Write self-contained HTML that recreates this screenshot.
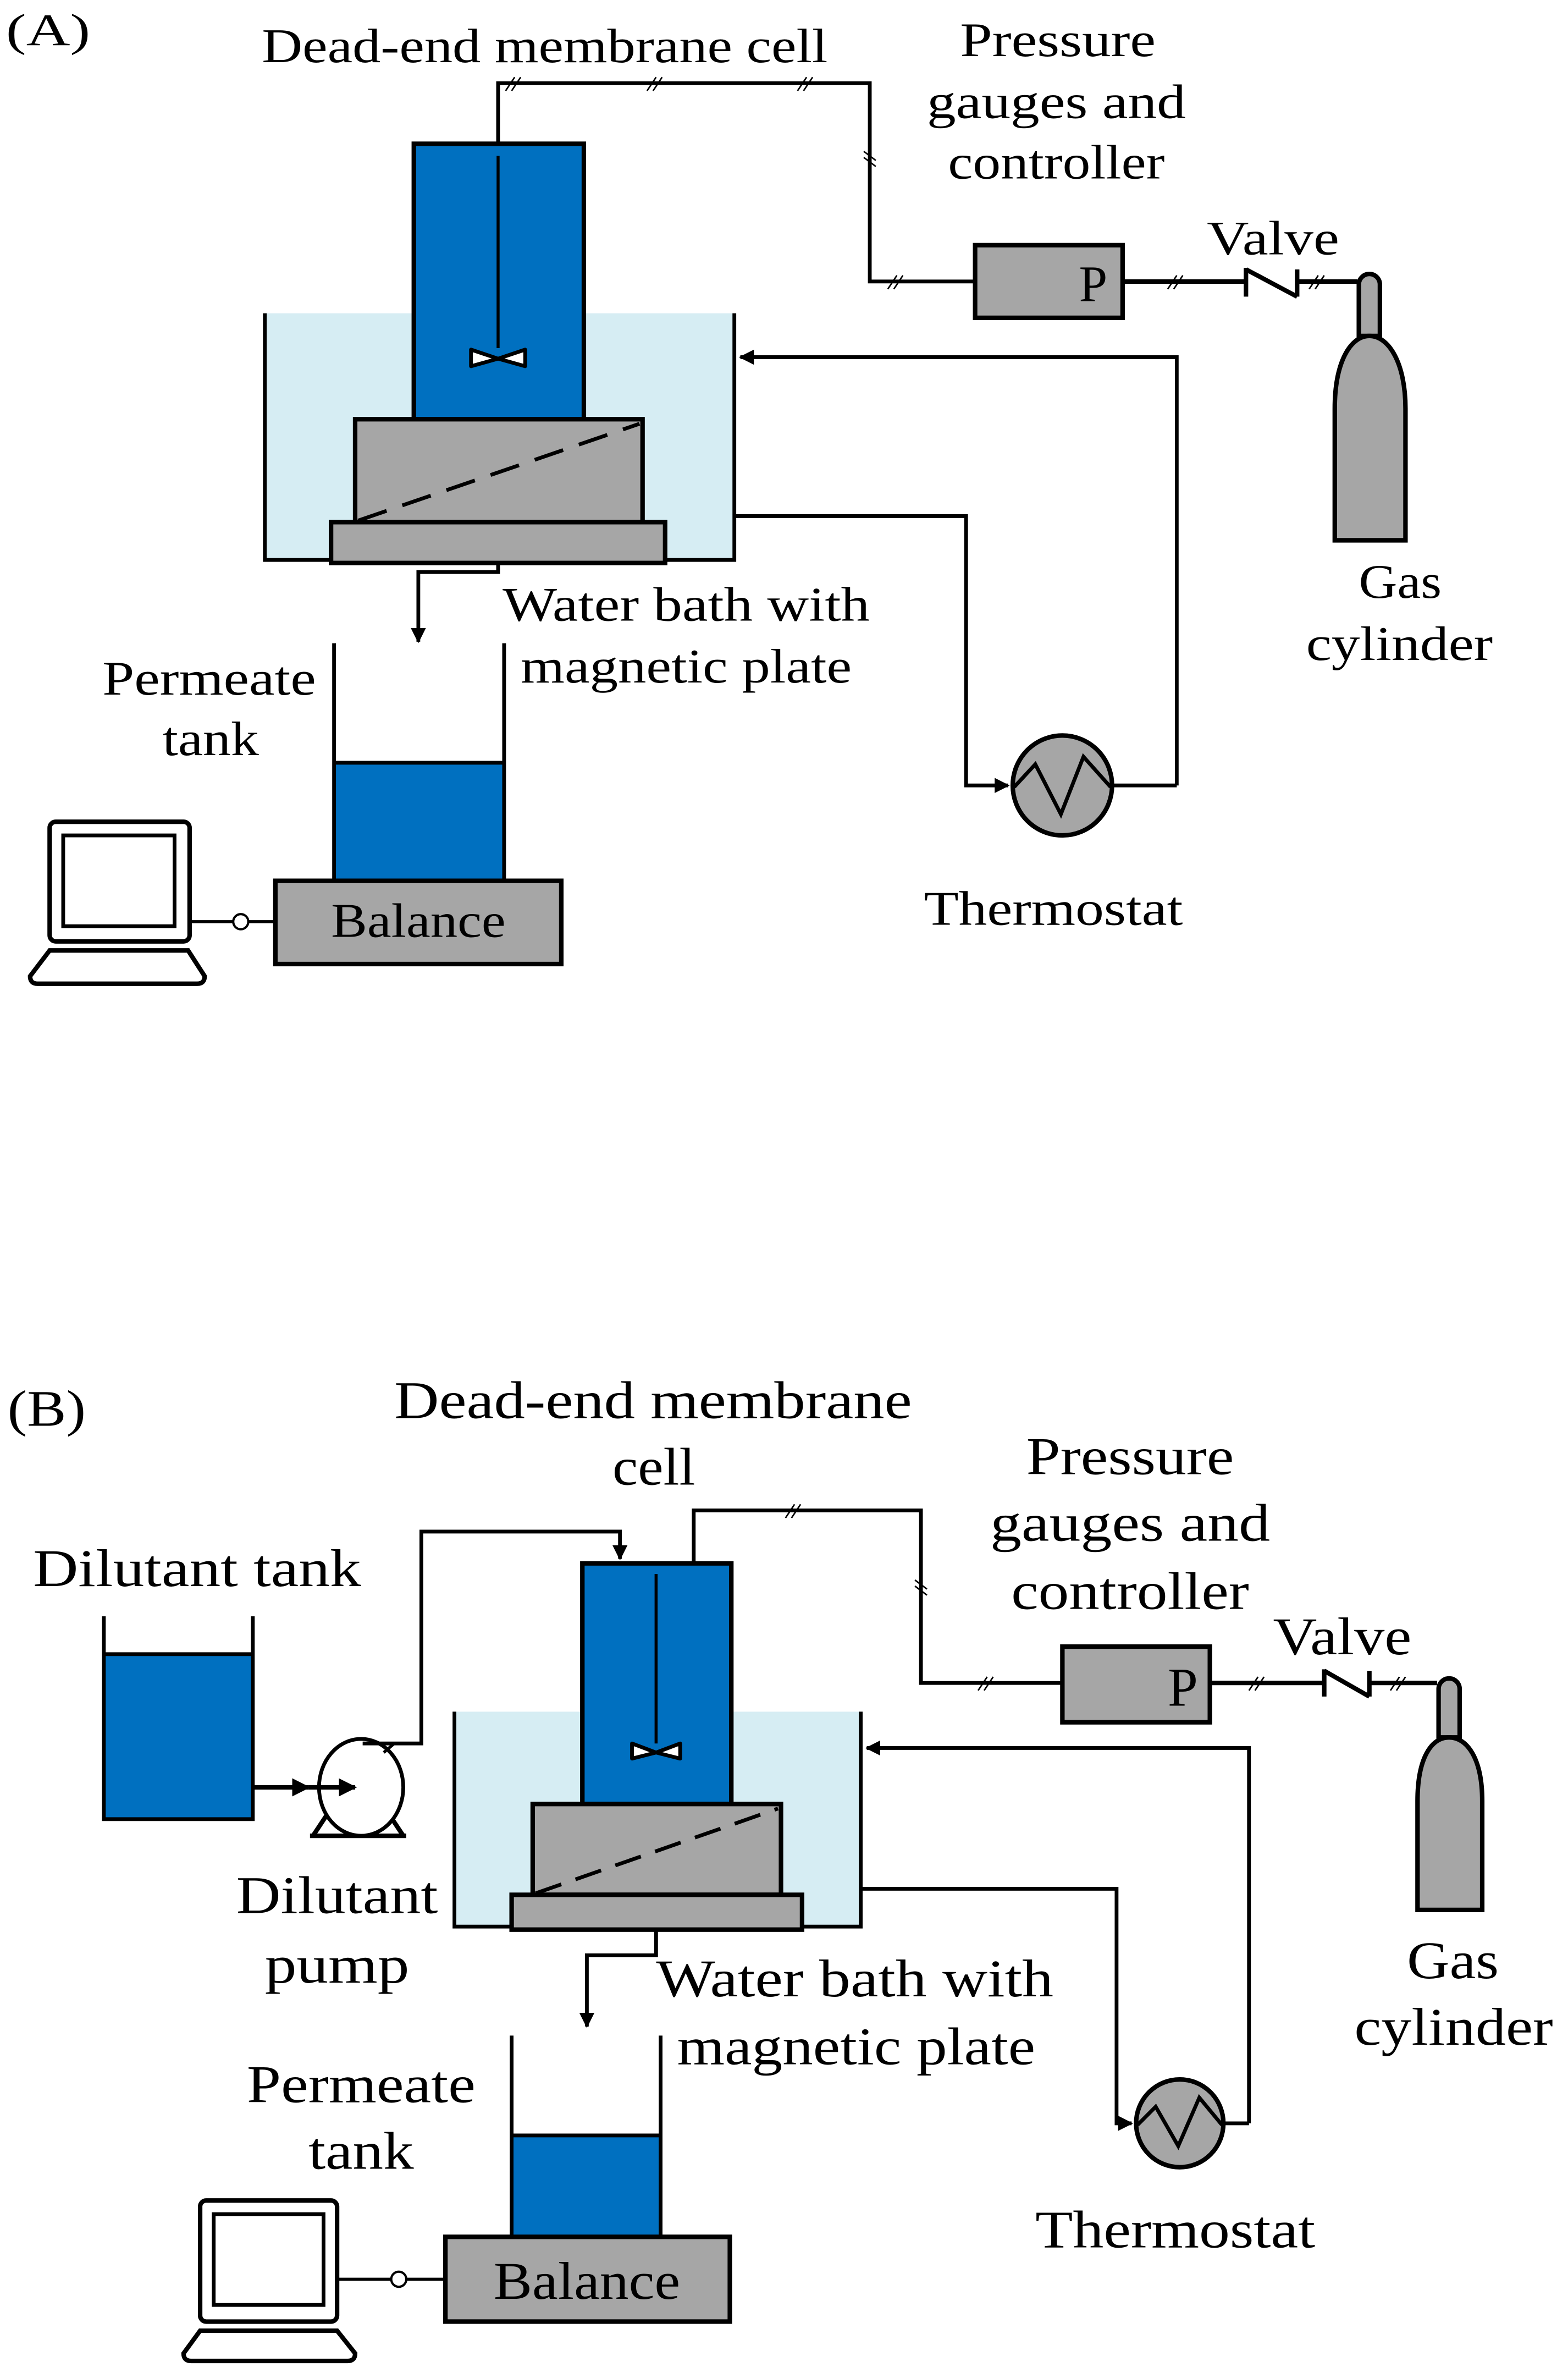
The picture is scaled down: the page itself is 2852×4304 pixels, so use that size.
<!DOCTYPE html>
<html><head><meta charset="utf-8"><style>html,body{margin:0;padding:0;background:#fff}svg{display:block}</style></head>
<body>
<svg width="2852" height="4304" viewBox="0 0 1042 1564" preserveAspectRatio="none" xmlns="http://www.w3.org/2000/svg" font-family="'Liberation Serif', serif" fill="none" stroke="#000">
<defs>
<marker id="ar" viewBox="0 0 10 10" refX="9" refY="5" markerWidth="4" markerHeight="4" orient="auto-start-reverse"><path d="M0,0L10,5L0,10z" fill="#000" stroke="none"/></marker>
</defs>
<style>text{fill:#000;stroke:none}</style>

<!-- ===== Panel A ===== -->
<text x="4" y="30" font-size="30" textLength="56" lengthAdjust="spacingAndGlyphs">(A)</text>
<text x="174" y="41" font-size="32" textLength="376" lengthAdjust="spacingAndGlyphs">Dead-end membrane cell</text>
<text x="638" y="37" font-size="32" textLength="130" lengthAdjust="spacingAndGlyphs">Pressure</text>
<text x="616" y="78" font-size="32" textLength="172" lengthAdjust="spacingAndGlyphs">gauges and</text>
<text x="630" y="118" font-size="32" textLength="144" lengthAdjust="spacingAndGlyphs">controller</text>
<text x="802" y="168" font-size="32" textLength="88" lengthAdjust="spacingAndGlyphs">Valve</text>
<text x="903" y="395" font-size="32" textLength="55" lengthAdjust="spacingAndGlyphs">Gas</text>
<text x="868" y="436" font-size="32" textLength="124" lengthAdjust="spacingAndGlyphs">cylinder</text>
<text x="334" y="410" font-size="32" textLength="244" lengthAdjust="spacingAndGlyphs">Water bath with</text>
<text x="346" y="451" font-size="32" textLength="220" lengthAdjust="spacingAndGlyphs">magnetic plate</text>
<text x="68" y="459" font-size="32" textLength="142" lengthAdjust="spacingAndGlyphs">Permeate</text>
<text x="108" y="499" font-size="32" textLength="64" lengthAdjust="spacingAndGlyphs">tank</text>
<text x="614" y="611" font-size="32" textLength="172" lengthAdjust="spacingAndGlyphs">Thermostat</text>

<polyline points="331,95 331,55 578,55 578,186 648,186" stroke-width="2.5"/>
<g stroke-width="1"><path d="M336,60l6,-9M340,60l6,-9M430,60l6,-9M434,60l6,-9M530,60l6,-9M534,60l6,-9M574,100l8,6M574,104l8,6M590,191l6,-9M594,191l6,-9M776,191l6,-9M780,191l6,-9M870,191l6,-9M874,191l6,-9"/></g>
<rect x="648" y="162" width="98" height="48" fill="#a6a6a6" stroke-width="3"/>
<text x="717" y="199" font-size="34">P</text>
<polyline points="746,186 828,186" stroke-width="3"/>
<path d="M828,177V196M828,178L862,196M862,178V196" stroke-width="3"/>
<polyline points="862,186 902,186" stroke-width="3"/>
<path d="M903,222V188a7,7 0 0 1 14,0V222z" fill="#a6a6a6" stroke-width="3"/>
<path d="M887,357V270c0,-30 10,-48 23,-48c13,0 24,18 24,48V357z" fill="#a6a6a6" stroke-width="3"/>

<rect x="176" y="207" width="312" height="163" fill="#d6edf3" stroke="none"/>
<polyline points="176,207 176,370 488,370 488,207" stroke-width="2.5"/>
<rect x="275" y="95" width="113" height="182" fill="#0070c0" stroke-width="3"/>
<line x1="331" y1="103" x2="331" y2="230" stroke-width="2"/>
<path d="M331,237L313,231v11zM331,237L349,231v11z" fill="#fff" stroke-width="2.5" stroke-linejoin="round"/>
<rect x="236" y="277" width="191" height="68" fill="#a6a6a6" stroke-width="3"/>
<line x1="238" y1="344" x2="425" y2="280" stroke-width="2.5" stroke-dasharray="20,11"/>
<rect x="220" y="345" width="222" height="27" fill="#a6a6a6" stroke-width="3"/>

<polyline points="782,519 782,236 492,236" stroke-width="2.5" marker-end="url(#ar)"/>
<polyline points="488,341 642,341 642,519 670,519" stroke-width="2.5" marker-end="url(#ar)"/>
<line x1="740" y1="519" x2="782" y2="519" stroke-width="2.5"/>
<circle cx="706" cy="519" r="33" fill="#a6a6a6" stroke-width="3"/>
<polyline points="674,520 688,505 705,538 720,500 738,520" stroke-width="2.5"/>

<polyline points="331,372 331,378 278,378 278,424" stroke-width="2.5" marker-end="url(#ar)"/>
<rect x="222" y="504" width="113" height="78" fill="#0070c0" stroke="none"/>
<path d="M222,425V582M335,425V582M222,504H335" stroke-width="2.5"/>
<rect x="183" y="582" width="190" height="55" fill="#a6a6a6" stroke-width="3"/>
<text x="220" y="619" font-size="32" textLength="116" lengthAdjust="spacingAndGlyphs">Balance</text>
<line x1="126" y1="609" x2="183" y2="609" stroke-width="2"/>
<circle cx="160" cy="609" r="5" fill="#fff" stroke-width="1.5"/>
<rect x="33" y="543" width="93" height="79" rx="4" fill="#fff" stroke-width="3"/>
<rect x="42" y="552" width="74" height="60" fill="#fff" stroke-width="2.5"/>
<path d="M33,628H125L136,645Q136,650 131,650H25Q20,650 20,645z" fill="#fff" stroke-width="3"/>

<!-- ===== Panel B ===== -->
<text x="5" y="942" font-size="34" textLength="52" lengthAdjust="spacingAndGlyphs">(B)</text>
<text x="262" y="937" font-size="35" textLength="344" lengthAdjust="spacingAndGlyphs">Dead-end membrane</text>
<text x="407" y="981" font-size="35" textLength="55" lengthAdjust="spacingAndGlyphs">cell</text>
<text x="682" y="974" font-size="35" textLength="138" lengthAdjust="spacingAndGlyphs">Pressure</text>
<text x="658" y="1018" font-size="35" textLength="186" lengthAdjust="spacingAndGlyphs">gauges and</text>
<text x="672" y="1063" font-size="35" textLength="158" lengthAdjust="spacingAndGlyphs">controller</text>
<text x="846" y="1093" font-size="35" textLength="92" lengthAdjust="spacingAndGlyphs">Valve</text>
<text x="935" y="1307" font-size="35" textLength="61" lengthAdjust="spacingAndGlyphs">Gas</text>
<text x="900" y="1351" font-size="35" textLength="132" lengthAdjust="spacingAndGlyphs">cylinder</text>
<text x="22" y="1048" font-size="35" textLength="218" lengthAdjust="spacingAndGlyphs">Dilutant tank</text>
<text x="157" y="1264" font-size="35" textLength="134" lengthAdjust="spacingAndGlyphs">Dilutant</text>
<text x="176" y="1310" font-size="35" textLength="96" lengthAdjust="spacingAndGlyphs">pump</text>
<text x="436" y="1319" font-size="35" textLength="264" lengthAdjust="spacingAndGlyphs">Water bath with</text>
<text x="450" y="1364" font-size="35" textLength="238" lengthAdjust="spacingAndGlyphs">magnetic plate</text>
<text x="164" y="1389" font-size="35" textLength="152" lengthAdjust="spacingAndGlyphs">Permeate</text>
<text x="205" y="1433" font-size="35" textLength="70" lengthAdjust="spacingAndGlyphs">tank</text>
<text x="688" y="1485" font-size="35" textLength="186" lengthAdjust="spacingAndGlyphs">Thermostat</text>

<polyline points="461,1033 461,998 612,998 612,1112 706,1112" stroke-width="2.5"/>
<g stroke-width="1"><path d="M522,1003l6,-9M526,1003l6,-9M608,1044l8,6M608,1048l8,6M650,1117l6,-9M654,1117l6,-9M830,1117l6,-9M834,1117l6,-9M924,1117l6,-9M928,1117l6,-9"/></g>
<rect x="706" y="1088" width="98" height="50" fill="#a6a6a6" stroke-width="3"/>
<text x="776" y="1127" font-size="36">P</text>
<line x1="804" y1="1112" x2="880" y2="1112" stroke-width="3"/>
<path d="M880,1103V1121M880,1104L910,1121M910,1104V1121" stroke-width="3"/>
<line x1="910" y1="1112" x2="955" y2="1112" stroke-width="3"/>
<path d="M956,1148V1116a7,7 0 0 1 14,0V1148z" fill="#a6a6a6" stroke-width="3"/>
<path d="M942,1262V1190c0,-28 9,-42 21,-42c12,0 22,14 22,42V1262z" fill="#a6a6a6" stroke-width="3"/>

<rect x="69" y="1093" width="99" height="109" fill="#0070c0" stroke="none"/>
<path d="M69,1068V1202H168V1068M69,1093H168" stroke-width="2.5"/>
<line x1="168" y1="1181" x2="205" y2="1181" stroke-width="3" marker-end="url(#ar)"/>
<path d="M208,1213L218,1198M268,1213L258,1198M206,1213H270" stroke-width="3" fill="none"/>
<ellipse cx="240" cy="1181" rx="28" ry="32" fill="#fff" stroke-width="2.5"/>
<line x1="205" y1="1181" x2="236" y2="1181" stroke-width="3" marker-end="url(#ar)"/>
<polyline points="241,1152 280,1152 280,1012 412,1012 412,1030" stroke-width="2.5" marker-end="url(#ar)"/>
<path d="M255,1158L262,1152" stroke-width="2"/>

<rect x="302" y="1131" width="270" height="142" fill="#d6edf3" stroke="none"/>
<polyline points="302,1131 302,1273 572,1273 572,1131" stroke-width="2.5"/>
<rect x="387" y="1033" width="99" height="159" fill="#0070c0" stroke-width="3"/>
<line x1="436" y1="1040" x2="436" y2="1152" stroke-width="2"/>
<path d="M436,1158L420,1152v10zM436,1158L452,1152v10z" fill="#fff" stroke-width="2.5" stroke-linejoin="round"/>
<rect x="354" y="1192" width="165" height="60" fill="#a6a6a6" stroke-width="3"/>
<line x1="356" y1="1251" x2="517" y2="1195" stroke-width="2.5" stroke-dasharray="18,10"/>
<rect x="340" y="1252" width="193" height="23" fill="#a6a6a6" stroke-width="3"/>

<polyline points="830,1403 830,1155 576,1155" stroke-width="2.5" marker-end="url(#ar)"/>
<polyline points="572,1248 742,1248 742,1403 752,1403" stroke-width="2.5" marker-end="url(#ar)"/>
<line x1="814" y1="1403" x2="830" y2="1403" stroke-width="2.5"/>
<circle cx="784" cy="1403" r="29" fill="#a6a6a6" stroke-width="3"/>
<polyline points="756,1404 768,1392 783,1418 797,1386 812,1404" stroke-width="2.5"/>

<polyline points="436,1275 436,1292 390,1292 390,1339" stroke-width="2.5" marker-end="url(#ar)"/>
<rect x="340" y="1411" width="99" height="67" fill="#0070c0" stroke="none"/>
<path d="M340,1345V1478M439,1345V1478M340,1411H439" stroke-width="2.5"/>
<rect x="296" y="1478" width="189" height="56" fill="#a6a6a6" stroke-width="3"/>
<text x="328" y="1519" font-size="35" textLength="124" lengthAdjust="spacingAndGlyphs">Balance</text>
<line x1="224" y1="1506" x2="296" y2="1506" stroke-width="2"/>
<circle cx="265" cy="1506" r="5" fill="#fff" stroke-width="1.5"/>
<rect x="133" y="1454" width="91" height="80" rx="4" fill="#fff" stroke-width="3"/>
<rect x="142" y="1463" width="73" height="60" fill="#fff" stroke-width="2.5"/>
<path d="M133,1540H224L236,1555Q236,1560 231,1560H127Q122,1560 122,1555z" fill="#fff" stroke-width="3"/>
</svg>
</body></html>
